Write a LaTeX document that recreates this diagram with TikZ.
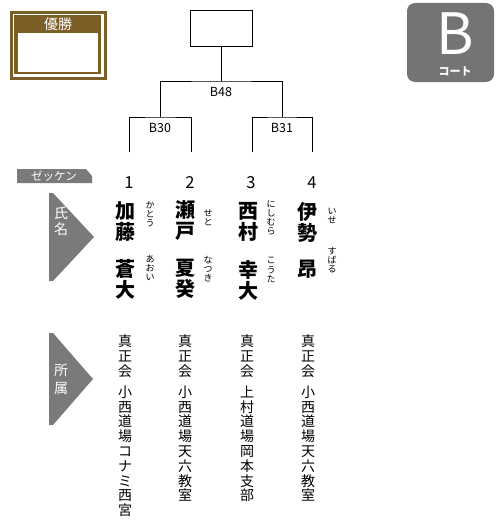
\documentclass[tikz,border=0pt]{standalone}
\usepackage{fontspec}
\setmainfont{Noto Sans CJK JP}
\usetikzlibrary{positioning}
\definecolor{trophy}{RGB}{124,95,38}
\definecolor{tagGray}{RGB}{122,122,122}
\tikzset{
	match/.style={draw,line width=0.8pt},
	tag/.style={fill=tagGray},
	ttl/.style={text=white,font=\fontsize{13}{15}\selectfont,inner sep=0,align=center},
	num/.style={font=\fontsize{16.5}{18}\selectfont,inner sep=0},
	lbl/.style={font=\fontsize{12.5}{14}\selectfont,inner sep=0},
	kname/.style={font=\bfseries\fontsize{20}{21}\selectfont,inner sep=0,align=center},
	kana/.style={font=\fontsize{9}{9.2}\selectfont,inner sep=0,align=center},
	club/.style={font=\fontsize{14}{14.8}\selectfont,inner sep=0,align=center,anchor=north}
}

\begin{document}
\begin{tikzpicture}[x=1pt,y=-1pt]
	\useasboundingbox (0,0) rectangle (500,527);
	% winner box
	\draw[trophy,line width=3pt] (11.5,12.5) rectangle (105.5,78.5);
	\fill[trophy] (14,15) rectangle (101,74);
	\fill[white] (18,33) rectangle (98,72);
	\node[ttl,font=\fontsize{14}{15}\selectfont] (win) at (58,24) {優勝};
	% court
	\fill[tagGray!95!black,rounded corners=8pt] (407,3) rectangle (494,82);
	\node[text=white,font=\fontsize{57}{60}\selectfont,inner sep=0] (court) at (455,34) {B};
	\node[text=white,font=\bfseries\fontsize{11}{12}\selectfont,inner sep=0] (courtlbl) at (455,71) {コート};
	% bracket
	\node[match,minimum width=62pt,minimum height=36pt] (final) at (221,28) {};
	\coordinate (b48) at (221,81);
	\coordinate (b30) at (160,117);
	\coordinate (b31) at (282,117);
	\coordinate (l1) at (129,152);
	\coordinate (l2) at (191,152);
	\coordinate (l3) at (252,152);
	\coordinate (l4) at (312,152);
	\draw[match] (final) -- (b48);
	\draw[match] (b30) |- (b48) -| (b31);
	\draw[match] (l1) |- (b30) -| (l2);
	\draw[match] (l3) |- (b31) -| (l4);
	\node[lbl] (b48lbl) at (221,92) {B48};
	\node[lbl] (b30lbl) at (160,128) {B30};
	\node[lbl] (b31lbl) at (282,128) {B31};
	% row labels
	\fill[tag] (17,169) -- (86,169) -- (92,176) -- (92,183) -- (17,183) -- cycle;
	\node[ttl,font=\fontsize{11.5}{12}\selectfont] (zekken) at (54,176) {ゼッケン};
	\fill[tag] (49,193) -- (53,193) -- (94,237) -- (53,281) -- (49,281) -- cycle;
	\node[ttl,font=\fontsize{14}{16}\selectfont] (shimei) at (61,221) {氏\\名};
	\fill[tag] (49,333) -- (53,333) -- (93,379) -- (53,425) -- (49,425) -- cycle;
	\node[ttl,font=\fontsize{14}{18}\selectfont] (shozoku) at (61,379) {所\\属};
	% numbers
	\node[num] (n1) at (129,183) {1};
	\node[num] (n2) at (190,183) {2};
	\node[num] (n3) at (251,183) {3};
	\node[num] (n4) at (312,183) {4};
	% names
	\node[kname] (sei1) at (125,222) {加\\藤};
	\node[kname] (mei1) at (125,279) {蒼\\大};
	\node[kname] (sei2) at (185,221) {瀬\\戸};
	\node[kname] (mei2) at (185,279) {夏\\癸};
	\node[kname] (sei3) at (248,222) {西\\村};
	\node[kname] (mei3) at (248,280) {幸\\大};
	\node[kname] (sei4) at (307,222) {伊\\勢};
	\node[kname] (mei4) at (307,269) {昂};
	% readings
	\node[kana] (k1a) at (150,214) {か\\と\\う};
	\node[kana] (k1b) at (150,268) {あ\\お\\い};
	\node[kana] (k2a) at (208,218) {せ\\と};
	\node[kana] (k2b) at (208,269) {な\\つ\\き};
	\node[kana] (k3a) at (271,218) {に\\し\\む\\ら};
	\node[kana] (k3b) at (271,270) {こ\\う\\た};
	\node[kana] (k4a) at (332,216) {い\\せ};
	\node[kana] (k4b) at (332,260) {す\\ば\\る};
	% clubs
	\node[club] (c1) at (125,335) {真\\正\\会\\[6pt]小\\西\\道\\場\\コ\\ナ\\ミ\\西\\宮};
	\node[club] (c2) at (185,335) {真\\正\\会\\[6pt]小\\西\\道\\場\\天\\六\\教\\室};
	\node[club] (c3) at (247,335) {真\\正\\会\\[6pt]上\\村\\道\\場\\岡\\本\\支\\部};
	\node[club] (c4) at (308,335) {真\\正\\会\\[6pt]小\\西\\道\\場\\天\\六\\教\\室};
\end{tikzpicture}
\end{document}
